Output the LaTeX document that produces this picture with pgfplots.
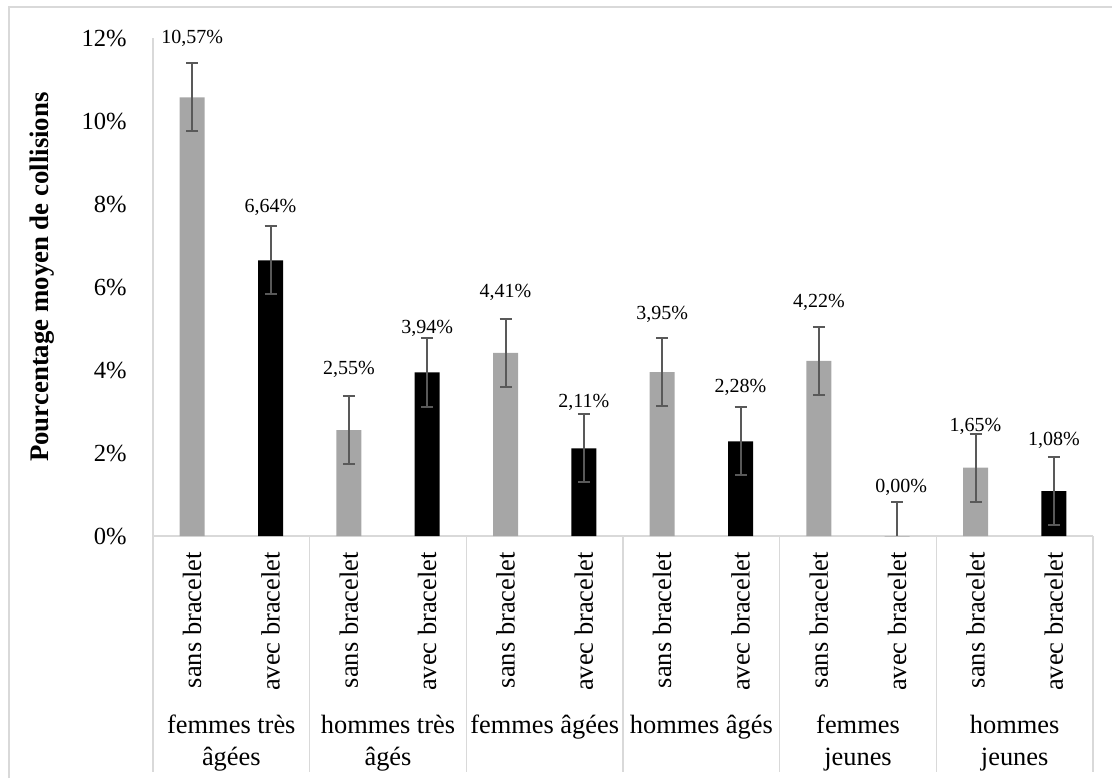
\documentclass[border=0pt]{standalone}
\usepackage{pgfplots}
\pgfplotsset{compat=1.18}
\usepackage{fontspec}
\setmainfont{Liberation Serif}
\definecolor{bargray}{HTML}{A6A6A6}
\definecolor{errgray}{HTML}{595959}
\definecolor{linegray}{HTML}{D9D9D9}
\begin{document}
\begin{tikzpicture}
\path[use as bounding box] (0,0) rectangle (556pt,389pt);
\draw[linegray, line width=0.75pt] (4.5pt,0) -- (4.5pt,385.5pt) -- (556pt,385.5pt);
\begin{axis}[
 at={(76.5pt,121pt)}, anchor=south west,
 scale only axis, width=470pt, height=249pt,
 xmin=-0.5, xmax=11.5, ymin=0, ymax=12,
 axis x line*=bottom, axis y line*=left,
 axis line style={draw=linegray, line width=0.75pt, -},
 ytick={0,2,...,12}, yticklabels={0\%,2\%,4\%,6\%,8\%,10\%,12\%},
 xtick={0,...,11},
 xticklabels={sans bracelet, avec bracelet, sans bracelet, avec bracelet, sans bracelet, avec bracelet, sans bracelet, avec bracelet, sans bracelet, avec bracelet, sans bracelet, avec bracelet},
 major tick length=0pt,
 tick style={draw=none},
 yticklabel style={font=\fontsize{12.3}{14}\selectfont, anchor=east, inner sep=0pt},
 yticklabel shift=13pt,
 xticklabel style={font=\fontsize{13.2}{15}\selectfont, rotate=90, anchor=east, inner sep=0pt},
 xticklabel shift=8pt,
 ylabel={Pourcentage moyen de collisions},
 ylabel style={font=\bfseries\fontsize{13.4}{15}\selectfont, at={(axis description cs:-0.118,0.52)}, anchor=center},
 clip=false,
]
% data labels
\addplot[draw=none, mark=none, nodes near coords, point meta=explicit symbolic,
  nodes near coords style={anchor=center, inner sep=0pt, font=\fontsize{10}{12}\selectfont, text=black}]
coordinates {
(0,12.0) [10,57\%]
(1,7.93) [6,64\%]
(2,4.02) [2,55\%]
(3,5.01) [3,94\%]
(4,5.88) [4,41\%]
(5,3.23) [2,11\%]
(6,5.35) [3,95\%]
(7,3.59) [2,28\%]
(8,5.64) [4,22\%]
(9.05,1.16) [0,00\%]
(10,2.63) [1,65\%]
(11,2.31) [1,08\%]
};
% sans bracelet
\addplot[ybar, bar shift=0pt, bar width=12.5pt, fill=bargray, draw=none,
  error bars/.cd, y dir=both, y explicit,
  error bar style={line width=1pt, errgray},
  error mark options={rotate=90, errgray, line width=1pt, mark size=3pt}]
coordinates {
(0,10.57) +- (0,0.82)
(2,2.55) +- (0,0.82)
(4,4.41) +- (0,0.82)
(6,3.95) +- (0,0.82)
(8,4.22) +- (0,0.82)
(10,1.65) +- (0,0.82)
};
% avec bracelet
\addplot[ybar, bar shift=0pt, bar width=12.5pt, fill=black, draw=none,
  error bars/.cd, y dir=both, y explicit,
  error bar style={line width=1pt, errgray},
  error mark options={rotate=90, errgray, line width=1pt, mark size=3pt}]
coordinates {
(1,6.64) +- (0,0.82)
(3,3.94) +- (0,0.82)
(5,2.11) +- (0,0.82)
(7,2.28) +- (0,0.82)
(11,1.08) +- (0,0.82)
};
\addplot[ybar, bar shift=0pt, bar width=12.5pt, fill=black, draw=none,
  error bars/.cd, y dir=plus, y explicit,
  error bar style={line width=1pt, errgray},
  error mark options={rotate=90, errgray, line width=1pt, mark size=3pt}]
coordinates {
(9,0) +- (0,0.82)
};
% group separators
\pgfplotsinvokeforeach{-0.5,1.5,3.5,5.5,7.5,9.5,11.5}{
  \draw[linegray, line width=0.75pt] (axis cs:#1,0) -- ([yshift=-118pt]axis cs:#1,0);
}
% group labels
\begin{scope}[every node/.style={anchor=base, inner sep=0pt, font=\fontsize{13.2}{15}\selectfont}]
\node at ([yshift=-98.5pt]axis cs:0.5,0) {femmes très};
\node at ([yshift=-114.5pt]axis cs:0.5,0) {âgées};
\node at ([yshift=-98.5pt]axis cs:2.5,0) {hommes très};
\node at ([yshift=-114.5pt]axis cs:2.5,0) {âgés};
\node at ([yshift=-98.5pt]axis cs:4.5,0) {femmes âgées};
\node at ([yshift=-98.5pt]axis cs:6.5,0) {hommes âgés};
\node at ([yshift=-98.5pt]axis cs:8.5,0) {femmes};
\node at ([yshift=-114.5pt]axis cs:8.5,0) {jeunes};
\node at ([yshift=-98.5pt]axis cs:10.5,0) {hommes};
\node at ([yshift=-114.5pt]axis cs:10.5,0) {jeunes};
\end{scope}
\end{axis}
\end{tikzpicture}
\end{document}
